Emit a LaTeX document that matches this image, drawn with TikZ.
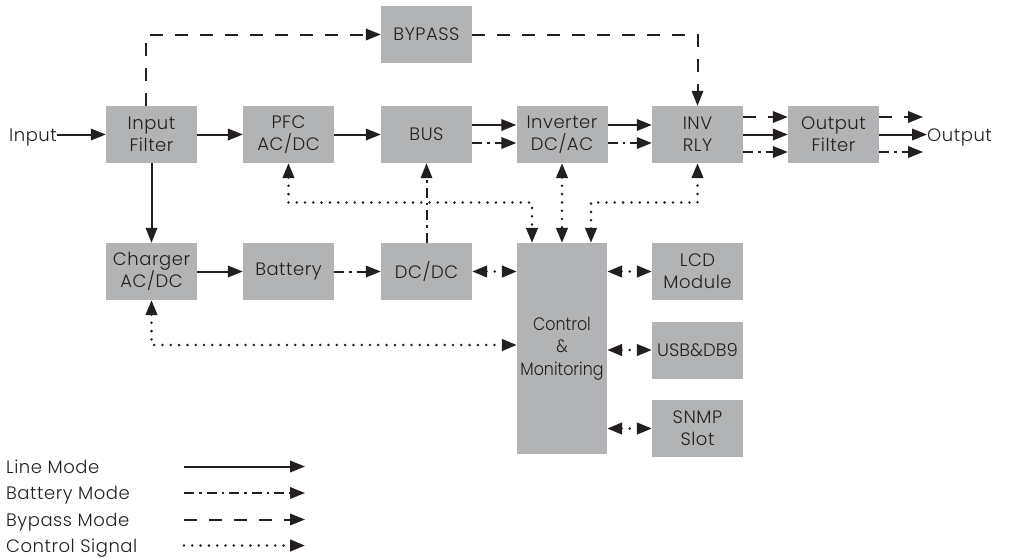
\documentclass[tikz,border=0pt]{standalone}
\usepackage{fontspec}
\setmainfont{Poppins}[UprightFont=* Light, LetterSpace=3]
\newfontfamily\narrowfont[UprightFont=* Light, FakeStretch=0.88]{Poppins}
\usetikzlibrary{arrows.meta}
\definecolor{boxgray}{RGB}{177,179,180}
\definecolor{ink}{RGB}{35,31,32}

\begin{document}
\begin{tikzpicture}[x=1pt,y=-1pt,
  font=\fontsize{18}{22}\selectfont, text=ink,
  >={Triangle[length=15pt,width=11.5pt]},
  blk/.style={fill=boxgray, minimum width=91pt, minimum height=57pt, align=center, inner sep=0pt},
  nblk/.style={blk, font=\narrowfont\fontsize{18}{22.5}\selectfont},
  lbl/.style={inner sep=0pt, text height=13pt, text depth=0pt},
  lnk/.style={draw=ink, line width=2pt},
  batt/.style={lnk, dash pattern=on 10pt off 5pt on 2.5pt off 5pt},
  byps/.style={lnk, dash pattern=on 13pt off 12pt},
  sig/.style={lnk, line width=2.8pt, line cap=round, dash pattern=on 0pt off 8.3pt}]

\useasboundingbox (0,0) rectangle (1011,558);

\node[lbl, anchor=east] (inp) at (57,134.5) {Input};
\node[blk] (inf) at (151.5,134.5) {Input\\Filter};
\node[blk] (pfc) at (288.5,134.5) {PFC\\AC/DC};
\node[blk] (bus) at (426.5,134.5) {BUS};
\node[blk] (inv) at (562,134.5) {Inverter\\DC/AC};
\node[blk] (rly) at (697.5,134.5) {INV\\RLY};
\node[blk] (outf) at (833.5,134.5) {Output\\Filter};
\node[lbl, anchor=west] (out) at (927,134.5) {Output};
\node[blk] (byp) at (426.5,34.5) {BYPASS};

\node[blk] (chg) at (151.5,271.5) {Charger\\AC/DC};
\node[blk] (bat) at (288.5,271.5) {Battery};
\node[blk] (dcdc) at (426.5,271.5) {DC/DC};
\node[nblk, minimum width=90pt, minimum height=211pt] (ctl) at (562,348.5) {Control\\\&\\Monitoring};
\node[blk] (lcd) at (697.5,271.5) {LCD\\Module};
\node[blk, font=\fontsize{18}{22}\selectfont\addfontfeature{LetterSpace=0}] (usb) at (697.5,350) {USB\&DB9};
\node[blk] (snmp) at (697.5,428.5) {SNMP\\Slot};

% power path
\draw[lnk,->] (inp.east) -- (inf.west);
\draw[lnk,->] (inf) -- (pfc);
\draw[lnk,->] (pfc) -- (bus);
\draw[lnk,->] ([yshift=9.5pt]bus.east) -- ([yshift=9.5pt]inv.west);
\draw[batt,->] ([yshift=-8.5pt]bus.east) -- ([yshift=-8.5pt]inv.west);
\draw[lnk,->] ([yshift=9.5pt]inv.east) -- ([yshift=9.5pt]rly.west);
\draw[batt,->] ([yshift=-8.5pt]inv.east) -- ([yshift=-8.5pt]rly.west);
\draw[byps,->] ([yshift=17.5pt]rly.east) -- ([yshift=17.5pt]outf.west);
\draw[lnk,->] (rly) -- (outf);
\draw[batt,->] ([yshift=-17.5pt]rly.east) -- ([yshift=-17.5pt]outf.west);
\draw[byps,->] ([yshift=17.5pt]outf.east) -- ([xshift=-4pt,yshift=17.5pt]outf.east -| out.west);
\draw[lnk,->] (outf.east) -- (out.west);
\draw[batt,->] ([yshift=-17.5pt]outf.east) -- ([xshift=-4pt,yshift=-17.5pt]outf.east -| out.west);

\draw[lnk,->] (inf) -- (chg);
\draw[lnk,->] (chg) -- (bat);
\draw[batt,->] (bat) -- (dcdc);
\draw[batt,->] (dcdc) -- (bus);

% bypass
\draw[byps,->] ([xshift=-5.5pt]inf.north) |- (byp.west);
\draw[byps,->] (byp.east) -| (rly.north);

% control signals
\coordinate (sigy) at (0,202.5);
\coordinate (chgy) at (0,345);
\draw[sig,<->] (pfc.south) |- ([xshift=-30pt]ctl.north |- sigy) -- ([xshift=-30pt]ctl.north);
\draw[sig,<->] (inv) -- (ctl);
\draw[sig,<->] ([xshift=29pt]ctl.north) |- (rly.south |- sigy) -- (rly.south);
\draw[sig,<->] (dcdc.east) -- (dcdc.east -| ctl.west);
\draw[sig,<->] (chg.south) |- (chgy -| ctl.west);
\draw[sig,<->] (ctl.east |- lcd) -- (lcd.west);
\draw[sig,<->] (ctl.east |- usb) -- (usb.west);
\draw[sig,<->] (ctl.east |- snmp) -- (snmp.west);

% legend
\node[lbl, anchor=west] (lgline) at (6,466.5) {Line Mode};
\node[lbl, anchor=west] (lgbatt) at (6,493) {Battery Mode};
\node[lbl, anchor=west] (lgbyps) at (6,519.5) {Bypass Mode};
\node[lbl, anchor=west] (lgsig) at (6,545.5) {Control Signal};
\draw[lnk,->] (184,0 |- lgline) -- (305,0 |- lgline);
\draw[batt,->] (184,0 |- lgbatt) -- (305,0 |- lgbatt);
\draw[byps,->] (184,0 |- lgbyps) -- (305,0 |- lgbyps);
\draw[sig,->] (184,0 |- lgsig) -- (305,0 |- lgsig);

\end{tikzpicture}
\end{document}
